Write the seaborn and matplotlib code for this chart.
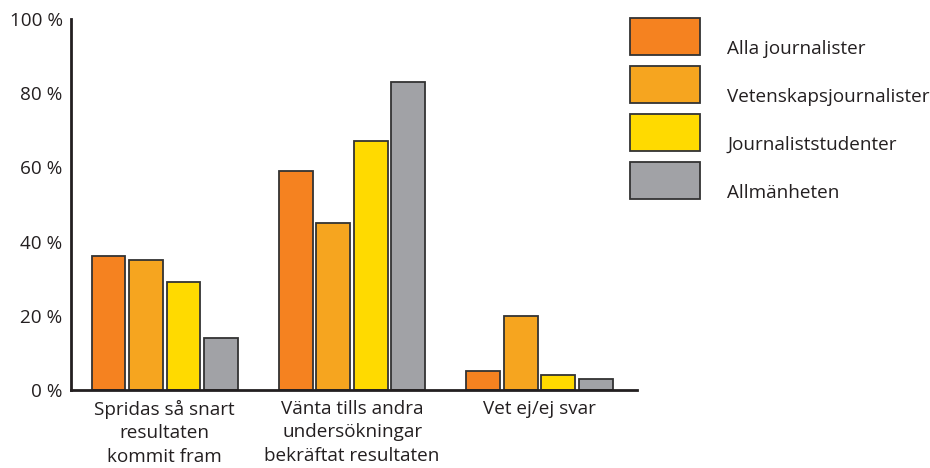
import pandas as pd
import matplotlib
matplotlib.use("Agg")
import matplotlib.pyplot as plt
from matplotlib.patches import Rectangle
import seaborn as sns

# data
categories = [
    "Spridas så snart\nresultaten\nkommit fram",
    "Vänta tills andra\nundersökningar\nbekräftat resultaten",
    "Vet ej/ej svar",
]
groups = ["Alla journalister", "Vetenskapsjournalister", "Journaliststudenter", "Allmänheten"]
alla_journalister = [36, 59, 5]
vetenskapsjournalister = [35, 45, 20]
journaliststudenter = [29, 67, 4]
allmanheten = [14, 83, 3]
y_ticks = [0, 20, 40, 60, 80, 100]

COLORS = ["#F58220", "#F6A51F", "#FFDA00", "#A1A2A6"]
EDGE = "#333333"
FS = 13.6

rows = []
for g, vals in zip(groups, [alla_journalister, vetenskapsjournalister,
                            journaliststudenter, allmanheten]):
    for c, v in zip(categories, vals):
        rows.append({"kategori": c, "grupp": g, "andel": v})
df = pd.DataFrame(rows)

sns.set_theme(style="white")
plt.rcParams["font.family"] = ["Open Sans", "DejaVu Sans"]
plt.rcParams["text.color"] = "#231F20"

fig = plt.figure(figsize=(9.3, 4.68), dpi=100)
ax = fig.add_axes([0.0763, 0.1667, 0.6086, 0.7927])

sns.barplot(data=df, x="kategori", y="andel", hue="grupp", order=categories,
            hue_order=groups, palette=COLORS, width=0.8, gap=0.1,
            edgecolor=EDGE, linewidth=1.3, saturation=1, legend=False, ax=ax)

ax.set_xlim(-0.5, 2.52)
ax.set_ylim(0, 100)
ax.set_yticks(y_ticks)
ax.set_yticklabels([f"{t}\u00a0%" for t in y_ticks], fontsize=FS, color="#231F20")
ax.set_xticks(range(len(categories)))
ax.set_xticklabels(categories, fontsize=FS, linespacing=1.4, color="#231F20")
ax.set_xlabel("")
ax.set_ylabel("")

for s in ["top", "right"]:
    ax.spines[s].set_visible(False)
for s in ["left", "bottom"]:
    ax.spines[s].set_color("#231F20")
    ax.spines[s].set_linewidth(2)
ax.tick_params(axis="y", direction="in", length=9, width=2, color="#231F20", pad=6)
ax.tick_params(axis="x", length=0, pad=7)

# legend drawn by hand (boxes with labels below-right)
for i, (g, col) in enumerate(zip(groups, COLORS)):
    top = 18 + i * 48
    fig.add_artist(Rectangle((630 / 930, 1 - (top + 37) / 468), 70 / 930, 37 / 468,
                             transform=fig.transFigure, facecolor=col,
                             edgecolor=EDGE, linewidth=1.3))
    fig.text(727 / 930, 1 - (top + 31) / 468, g, fontsize=FS,
             ha="left", va="center", color="#231F20")

plt.savefig("out.png", dpi=100)
